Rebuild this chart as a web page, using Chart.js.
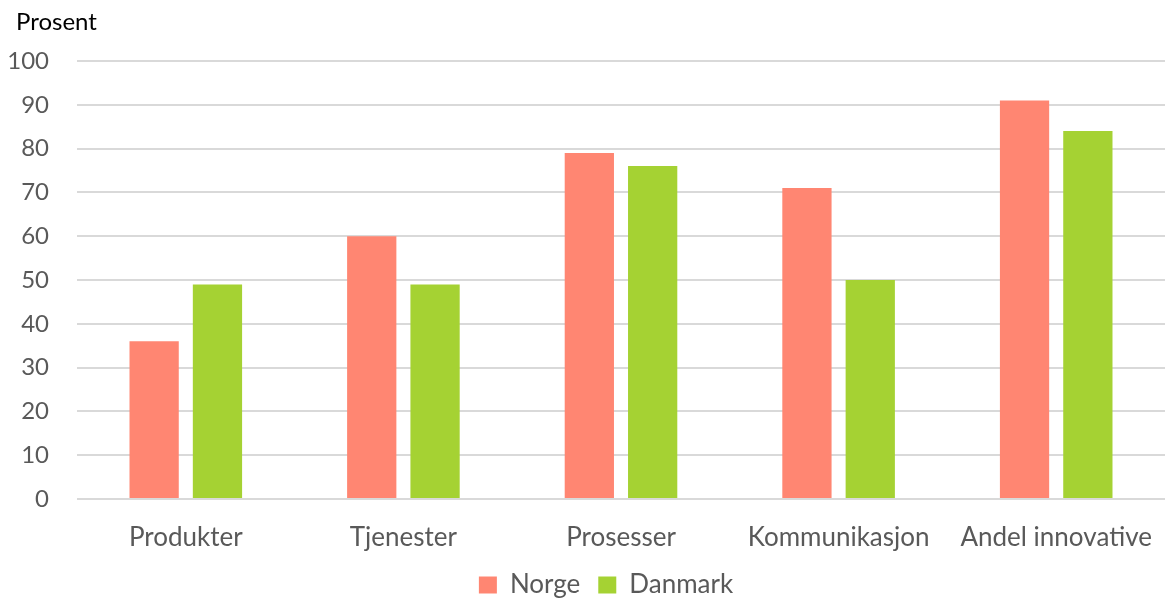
<!DOCTYPE html>
<html>
<head>
<meta charset="utf-8">
<script src="https://cdn.jsdelivr.net/npm/chart.js@4"></script>
<style>
  html, body { margin: 0; padding: 0; background: #fff; }
  #wrap { width: 1165px; height: 598px; }
</style>
</head>
<body>
<div id="wrap"><canvas id="myChart"></canvas></div>
<script>
"use strict"

const categories = ["Produkter", "Tjenester", "Prosesser", "Kommunikasjon", "Andel innovative"];
const norge = [36, 60, 79, 71, 91];
const danmark = [49, 49, 76, 50, 84];
const seriesNames = ["Norge", "Danmark"];
const barColors = ["#FF8672", "#A5D233"];
const unitLabel = "Prosent";

const ctx = document.getElementById('myChart');
const textColor = "#595959";
const fontFamily = "Lato, 'Liberation Sans', sans-serif";

// unit text in the top left corner, and legend nudged right like the original
const extras = {
    id: 'extras',
    afterLayout(chart) {
        chart.legend.left += 14;
        chart.legend.right += 14;
    },
    afterDraw(chart) {
        const c = chart.ctx;
        c.save();
        c.font = "24px " + fontFamily;
        c.fillStyle = "#000";
        c.textBaseline = "middle";
        c.fillText(unitLabel, 16, 22);
        c.restore();
    }
};

new Chart(ctx, {
    type: 'bar',
    data: {
        labels: categories,
        datasets: [
            { label: seriesNames[0], data: norge, backgroundColor: barColors[0] },
            { label: seriesNames[1], data: danmark, backgroundColor: barColors[1] }
        ]
    },
    plugins: [extras],
    options: {
        responsive: true,
        maintainAspectRatio: false,
        animation: false,
        layout: { padding: { left: 5, right: -14, top: 61, bottom: -10 } },
        datasets: {
            bar: { categoryPercentage: 0.582, barPercentage: 0.778 }
        },
        plugins: {
            legend: {
                position: 'bottom',
                labels: {
                    color: textColor,
                    font: { family: fontFamily, size: 26 },
                    boxWidth: 18,
                    boxHeight: 17,
                    padding: 18
                }
            },
            tooltip: { enabled: false }
        },
        scales: {
            y: {
                min: 0,
                max: 100,
                afterFit: (scale) => { scale.width = 72; },
                ticks: {
                    stepSize: 10,
                    color: textColor,
                    font: { family: fontFamily, size: 24 },
                    padding: 28
                },
                grid: { color: "#D9D9D9", lineWidth: 2, drawTicks: false },
                border: { display: false }
            },
            x: {
                afterFit: (scale) => {
                    scale.height = 55;
                    scale.paddingLeft = 0;
                    scale.paddingRight = 0;
                },
                ticks: {
                    color: textColor,
                    font: { family: fontFamily, size: 26 },
                    padding: 23,
                    autoSkip: false,
                    maxRotation: 0
                },
                grid: { display: false, drawTicks: false },
                border: { display: false }
            }
        }
    }
});
</script>
</body>
</html>
